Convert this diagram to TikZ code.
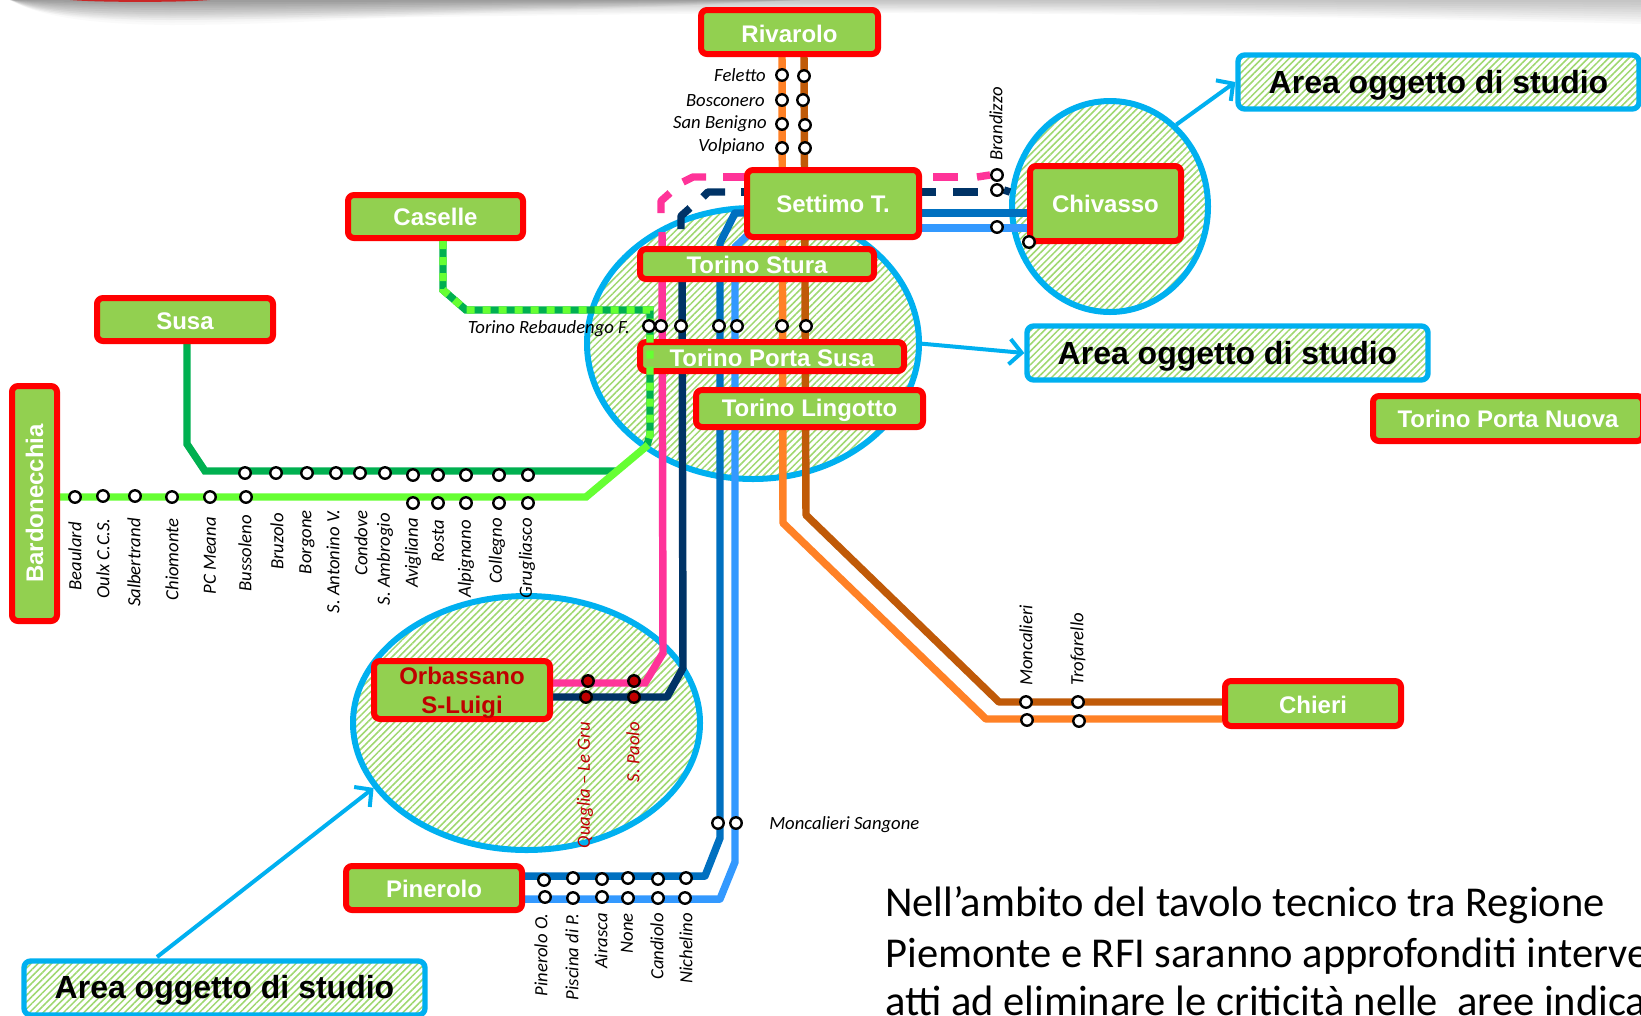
\documentclass[tikz,border=0pt]{standalone}
\usepackage{fontspec}
\setmainfont{Carlito}
\setsansfont{Liberation Sans}
\usetikzlibrary{shapes.geometric,patterns.meta,arrows.meta}
\definecolor{hatchg}{HTML}{9FD870}
\definecolor{boxg}{HTML}{92D050}
\definecolor{cyanb}{HTML}{00B0F0}
\definecolor{redb}{HTML}{FF0000}
\definecolor{lorange}{HTML}{FF8126}
\definecolor{lbrown}{HTML}{C05A08}
\definecolor{lpink}{HTML}{FF3399}
\definecolor{lnavy}{HTML}{003366}
\definecolor{lblue}{HTML}{0070C0}
\definecolor{lsky}{HTML}{3399FF}
\definecolor{ldgreen}{HTML}{00B050}
\definecolor{llgreen}{HTML}{66FF33}
\definecolor{dred}{HTML}{C00000}
\pgfdeclarelayer{ell}
\pgfdeclarelayer{lines}
\pgfdeclarelayer{top}
\pgfsetlayers{ell,lines,main,top}
\tikzset{
  x=.75pt,y=-.75pt,
  hatchfill/.style={pattern={Lines[angle=45,distance=3.6pt,line width=1.15pt]},pattern color=hatchg},
  redbox/.style 2 args={draw=redb,line width=4.5pt,fill=boxg,rounded corners=4.5pt,inner sep=0pt,
    minimum width=#1*.75pt,minimum height=#2*.75pt,align=center,text=white,
    font=\sffamily\bfseries\fontsize{18}{20}\selectfont},
  areabox/.style 2 args={draw=cyanb,line width=4pt,hatchfill,rounded corners=5pt,inner sep=0pt,
    minimum width=#1*.75pt,minimum height=#2*.75pt,text=black,
    font=\sffamily\bfseries\fontsize{24}{26}\selectfont},
  areaell/.style 2 args={ellipse,draw=cyanb,line width=4.5pt,hatchfill,inner sep=0pt,
    minimum width=#1*.75pt,minimum height=#2*.75pt},
  stn/.style={circle,draw=black,fill=white,line width=1.8pt,minimum size=8.6pt,inner sep=0pt},
  stnred/.style={stn,fill=dred},
  lbl/.style={inner sep=0pt,font=\itshape\fontsize{14}{16}\selectfont},
  lblup/.style={lbl,rotate=90,anchor=west},
  lbldown/.style={lbl,rotate=90,anchor=east},
  railway/.style={line width=5.6pt,line join=round},
  callout/.style={draw=cyanb,line width=3pt,-{Straight Barb[length=9pt,width=19pt,line width=3pt]}},
  bodytext/.style={inner sep=0pt,anchor=base west,font=\fontsize{31.9}{34}\selectfont},
}
\newcommand{\stat}[3]{\node[stn] (#1) at (#2,#3) {};}
\newcommand{\statred}[3]{\node[stnred] (#1) at (#2,#3) {};}
\newcommand{\dn}[2]{\raisebox{-#1pt}[\height][\depth]{#2}}
\begin{document}
\begin{tikzpicture}
\useasboundingbox (0,0) rectangle (1641,1015);
\begin{pgfonlayer}{ell}
  \fill[white] (0,0) rectangle (1641,1015);
  % top shadow band
  \foreach \k in {1,...,10}{
    \begin{scope}[yscale=\k/10]
      \fill[black,opacity=.025] (10,0) .. controls (30,12) and (70,20) .. (170,20)
        .. controls (400,18) and (700,12) .. (900,13)
        .. controls (1200,14) and (1500,20) .. (1641,24) -- (1641,0) -- cycle;
      \fill[black,opacity=.02] (12,0) .. controls (30,12) and (70,24) .. (170,25)
        .. controls (300,25) and (420,14) .. (560,10)
        .. controls (640,8) and (720,4) .. (800,0) -- cycle;
    \end{scope}
  }
  \fill[dred!85!white] (70,0) .. controls (100,2.5) and (180,2.5) .. (210,0) -- cycle;
  \node[areaell={332}{271}] (ellM) at (753,343.5) {};
  \node[areaell={196}{211}] (ellC) at (1110,206.5) {};
  \node[areaell={347}{254}] (ellO) at (526.5,723) {};
\end{pgfonlayer}

% named boxes
\node[redbox={177}{44}] (Riv) at (789.5,32) {\dn{1.4}{Rivarolo}};
\node[redbox={172}{67}] (Set) at (833,203.5) {Settimo T.};
\node[redbox={234}{30}] (Stu) at (757,264) {\dn{0.7}{Torino Stura}};
\node[redbox={264}{29}] (Sus) at (772,356.5) {\dn{0.7}{Torino Porta Susa}};
\node[redbox={227}{37}] (Lin) at (809.5,408.5) {\dn{1.4}{Torino Lingotto}};
\node[redbox={151}{75}] (Chv) at (1105.5,203.5) {Chivasso};
\node[redbox={270}{45}] (TPN) at (1508,418.5) {Torino Porta Nuova};
\node[redbox={176}{45}] (Chi) at (1313,703.5) {\dn{0.7}{Chieri}};
\node[redbox={176}{44}] (Pin) at (434,888) {\dn{0.7}{Pinerolo}};
\node[redbox={176}{58},text=dred] (Orb) at (462,690) {\dn{2.2}{\fontsize{18}{21.5}\selectfont\begin{tabular}{@{}c@{}}Orbassano\\S-Luigi\end{tabular}}};
\node[redbox={175}{43}] (Cas) at (435.5,216.5) {Caselle};
\node[redbox={176}{43}] (Ssa) at (185,319.5) {\dn{1.4}{Susa}};
\node[redbox={235}{45},rotate=90] (Bar) at (34.5,503.5) {Bardonecchia};
\node[areabox={401}{54}] (A1) at (1438.5,82) {\dn{2.8}{Area oggetto di studio}};
\node[areabox={401}{54}] (A2) at (1227.5,353) {\dn{2.2}{Area oggetto di studio}};
\node[areabox={401}{54}] (A3) at (224.5,988) {\dn{1.5}{Area oggetto di studio}};

\begin{pgfonlayer}{top}
  % light dashes of the shared Caselle / Susa line
  \coordinate (casTurn) at (443,290);
  \draw[railway,llgreen,dash pattern=on 6pt off 6pt,line join=miter] (Cas.south -| casTurn) -- (casTurn) -- (466,310) -- (650,310) -- (650,435) -- (647,445);
  % stations
  \stat{fe1}{782}{75}\stat{fe2}{804}{76}
  \stat{bo1}{782}{100}\stat{bo2}{803}{100}
  \stat{sb1}{782}{124}\stat{sb2}{805}{125}
  \stat{vo1}{782}{148}\stat{vo2}{805}{148}
  \stat{br1}{997}{175}\stat{br2}{997}{190}\stat{br3}{997}{227}
  \stat{chv1}{1029}{242}
  \stat{tr1}{649}{326}\stat{tr2}{661}{326}\stat{tr3}{681}{326}\stat{tr4}{719}{326}\stat{tr5}{737}{326}\stat{tr6}{782}{326}\stat{tr7}{806}{326}
  \stat{u1}{245}{473}\stat{u2}{276}{473}\stat{u3}{307}{473}\stat{u4}{336}{473}\stat{u5}{360}{473}\stat{u6}{385}{473}
  \stat{u7}{413}{475}\stat{u8}{438}{475}\stat{u9}{466}{475}\stat{u10}{499}{475}\stat{u11}{528}{475}
  \stat{d1}{75}{497}\stat{d2}{103}{496}\stat{d3}{135}{496}\stat{d4}{172}{497}\stat{d5}{210}{497}\stat{d6}{246}{497}
  \stat{d7}{413}{503}\stat{d8}{438}{503}\stat{d9}{466}{503}\stat{d10}{499}{503}\stat{d11}{528}{503}
  \statred{o1}{588}{681}\statred{o2}{634}{681}\statred{o3}{586}{697}\statred{o4}{634}{697}
  \stat{p1}{544}{880}\stat{p2}{573}{878}\stat{p3}{602}{879}\stat{p4}{628}{878}\stat{p5}{658}{879}\stat{p6}{686}{878}
  \stat{q1}{545}{897}\stat{q2}{573}{898}\stat{q3}{602}{897}\stat{q4}{628}{898}\stat{q5}{658}{898}\stat{q6}{685}{898}
  \stat{ms1}{718}{823}\stat{ms2}{736}{823}
  \stat{mo1}{1026}{702}\stat{mo2}{1078}{702}\stat{mo3}{1027}{720}\stat{mo4}{1079}{721}
  % labels
  \node[lbl,anchor=east] (lFe) at (766,75) {Feletto};
  \node[lbl,anchor=east] (lBo) at (765,101) {Bosconero};
  \node[lbl,anchor=east] (lSB) at (767,124) {San Benigno};
  \node[lbl,anchor=east] (lVo) at (765,147) {Volpiano};
  \node[lbl,anchor=east] (lTR) at (630,329) {Torino Rebaudengo F.};
  \node[lbl,anchor=west] (lMS) at (769,825) {Moncalieri Sangone};
  \node[lblup] (lBr) at (996,161) {Brandizzo};
  \node[lblup] (lMo) at (1026,686) {Moncalieri};
  \node[lblup] (lTf) at (1078,686) {Trofarello};
  \node[lbldown] (lb1) at (75,522) {Beaulard};
  \node[lbldown] (lb2) at (103,518) {Oulx C.C.S.};
  \node[lbldown] (lb3) at (134,518) {Salbertrand};
  \node[lbldown] (lb4) at (172,518) {Chiomonte};
  \node[lbldown] (lb5) at (210,517) {PC Meana};
  \node[lbldown] (lb6) at (245,515) {Bussoleno};
  \node[lbldown] (lb7) at (277,513) {Bruzolo};
  \node[lbldown] (lb8) at (307,510) {Borgone};
  \node[lbldown] (lb9) at (333,509) {S. Antonino V.};
  \node[lbldown] (lb10) at (361,510) {Condove};
  \node[lbldown] (lb11) at (385,513) {S. Ambrogio};
  \node[lbldown] (lb12) at (413,518) {Avigliana};
  \node[lbldown] (lb13) at (438,520) {Rosta};
  \node[lbldown] (lb14) at (466,520) {Alpignano};
  \node[lbldown] (lb15) at (497,518) {Collegno};
  \node[lbldown] (lb16) at (527,518) {Grugliasco};
  \node[lbldown,text=dred] (lq) at (585,722) {Quaglia -- Le Gru};
  \node[lbldown,text=dred] (lsp) at (633,722) {S. Paolo};
  \node[lbldown] (lp1) at (541,913) {Pinerolo O.};
  \node[lbldown] (lp2) at (572,913) {Piscina di P.};
  \node[lbldown] (lp3) at (601,913) {Airasca};
  \node[lbldown] (lp4) at (627,913) {None};
  \node[lbldown] (lp5) at (657,913) {Candiolo};
  \node[lbldown] (lp6) at (686,913) {Nichelino};
  % body text
  \node[bodytext] (t1) at (885,916) {Nell’ambito del tavolo tecnico tra Regione};
  \node[bodytext] (t2) at (885,967) {Piemonte e RFI saranno approfonditi interve};
  \node[bodytext] (t3) at (885,1015) {atti ad eliminare le criticità nelle\ \ aree indica};
  % callout arrows
  \coordinate (a3tail) at (157,957);
  \draw[callout] (ellC.51.6) -- (A1.west);
  \draw[callout] (ellM.east) -- (A2.west);
  \draw[callout] (a3tail) -- (ellO.203.6);
\end{pgfonlayer}

\begin{pgfonlayer}{lines}
  % helper levels
  \coordinate (yOr) at (0,719);
  \coordinate (yBr) at (0,702);
  \coordinate (yPi) at (0,683);
  \coordinate (yNa) at (0,697);
  \coordinate (yPa) at (0,876);
  \coordinate (yPb) at (0,899);
  \coordinate (yBl) at (0,213);
  \coordinate (yBs) at (0,228);
  \coordinate (yLo) at (0,497);
  \coordinate (xSu) at (187,0);
  % orange and brown
  \draw[railway,lorange] (fe1 |- Riv.south) -- (783,523) -- (986,719) -- (Chi.west |- yOr);
  \draw[railway,lbrown] (fe2 |- Riv.south) -- (806,515) -- (999,702) -- (Chi.west |- yBr);
  % pink
  \draw[railway,lpink,line join=miter] (Orb.east |- yPi) -- (645,683) -- (663,653) -- (662,232);
  \draw[railway,lpink] (745,177) -- (723,177);
  \draw[railway,lpink] (706,177) -- (693,177) -- (683,182);
  \draw[railway,lpink] (670,193) -- (661,201) -- (661,213);
  \draw[railway,lpink] (958,177) -- (933,177);
  \draw[railway,lpink] (br1.west) -- (977,177);
  % navy
  \draw[railway,lnavy] (Orb.east |- yNa) -- (667,697) -- (683,668) -- (682,270);
  \draw[railway,lnavy] (745,192) -- (741,192);
  \draw[railway,lnavy] (725,192) -- (708,192) -- (703,197);
  \draw[railway,lnavy] (690,208) -- (681,216) -- (681,229);
  \draw[railway,lnavy] (922,192) -- (936,192);
  \draw[railway,lnavy] (953,192) -- (978,192);
  \draw[railway,lnavy] (br2.east) -- (1010,192);
  % blues
  \draw[railway,lblue] (Pin.east |- yPa) -- (705,876) -- (720,838) -- (720,243) -- (735,213) -- (Set.west |- yBl);
  \draw[railway,lsky] (Pin.east |- yPb) -- (720,899) -- (735,862) -- (735,247) -- (750,233);
  \draw[railway,lblue] (Set.east |- yBl) -- (Chv.west |- yBl);
  \draw[railway,lsky] (Set.east |- yBs) -- (Chv.west |- yBs);
  % greens
  \draw[railway,ldgreen,line join=miter] (Cas.south -| casTurn) -- (casTurn) -- (466,310) -- (650,310) -- (650,435) -- (647,445);
  \draw[railway,ldgreen,line join=miter] (Ssa.south -| xSu) -- (187,444) -- (205,471) -- (616,471);
  \draw[railway,llgreen,line join=miter] (Bar.south |- yLo) -- (586,497) -- (648,445);
\end{pgfonlayer}
\end{tikzpicture}
\end{document}
